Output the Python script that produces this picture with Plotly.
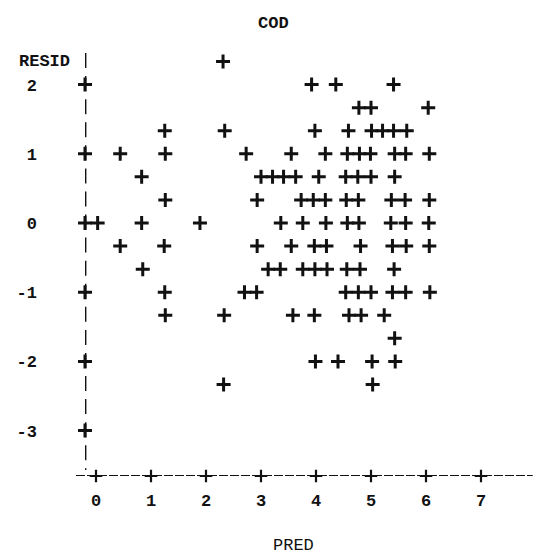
import plotly.graph_objects as go

# ---- data (PRED, RESID) ----
row_resid = [2.333, 2.0, 1.667, 1.333, 1.0, 0.667, 0.333, 0.0,
             -0.333, -0.667, -1.0, -1.333, -1.667, -2.0, -2.333]
row_pred = [
    [2.31],
    [3.92, 4.36, 5.41],
    [4.78, 5.00, 6.04],
    [1.25, 2.34, 3.98, 4.59, 5.01, 5.21, 5.41, 5.65],
    [0.44, 1.26, 2.73, 3.55, 4.17, 4.57, 4.79, 4.99, 5.43, 5.63, 6.06],
    [0.83, 3.00, 3.21, 3.41, 3.63, 4.05, 4.54, 4.76, 5.00, 5.43],
    [1.26, 2.93, 3.73, 3.95, 4.17, 4.55, 4.77, 5.37, 5.62, 6.06],
    [0.03, 0.83, 1.89, 3.36, 3.76, 4.18, 4.57, 4.78, 5.36, 5.63, 6.05],
    [0.44, 1.24, 2.93, 3.55, 3.97, 4.19, 4.81, 5.39, 5.64, 6.06],
    [0.85, 3.13, 3.35, 3.76, 3.98, 4.20, 4.56, 4.80, 5.42],
    [1.25, 2.70, 2.92, 4.54, 4.77, 5.00, 5.39, 5.63, 6.07],
    [1.26, 2.33, 3.58, 3.97, 4.60, 4.82, 5.24],
    [5.43],
    [3.99, 4.40, 5.02, 5.44],
    [2.32, 5.03],
]
pred = [p for ps in row_pred for p in ps]
resid = [r for r, ps in zip(row_resid, row_pred) for _ in ps]

x_ticks = [0, 1, 2, 3, 4, 5, 6, 7]
y_ticks = [2, 1, 0, -1, -2, -3]
y_ticklabels = ["2", "1", "0", "-1", "-2", "-3"]

title_text = "COD"
x_title = "PRED"
y_title = "RESID"

# ---- layout geometry ----
W, H = 544, 556
ML, MR, MT, MB = 85, 9, 50, 80
xmin, xmax = -0.2, -0.2 + (W - ML - MR) / 55.0
ymax = 2.5
ymin = ymax - (H - MT - MB) / 69.2

FONT = "Liberation Mono"
INK = "#111111"

fig = go.Figure()

# data points drawn as '+' crosses
fig.add_trace(go.Scatter(
    x=pred, y=resid, mode="markers",
    marker=dict(symbol="cross-thin", size=10, color=INK,
                line=dict(width=3, color=INK)),
    cliponaxis=False, showlegend=False, hoverinfo="x+y"))

# axis tick crosses (line-printer style)
fig.add_trace(go.Scatter(
    x=[xmin] * len(y_ticks), y=y_ticks, mode="markers",
    marker=dict(symbol="cross-thin", size=10, color=INK,
                line=dict(width=3, color=INK)),
    cliponaxis=False, showlegend=False, hoverinfo="skip"))
fig.add_trace(go.Scatter(
    x=x_ticks, y=[ymin] * len(x_ticks), mode="markers",
    marker=dict(symbol="cross-thin", size=9, color=INK,
                line=dict(width=2.2, color=INK)),
    cliponaxis=False, showlegend=False, hoverinfo="skip"))

# dashed axes
fig.add_shape(type="line", xref="x", yref="y",
              x0=xmin, x1=xmin, y0=2.456, y1=-3.57,
              line=dict(color=INK, width=2.8, dash="15px,8.07px"))
fig.add_shape(type="line", xref="paper", yref="y",
              x0=-9 / (W - ML - MR), x1=0.995, y0=ymin, y1=ymin,
              line=dict(color=INK, width=2.2, dash="9px,2px"))

fig.update_layout(
    width=W, height=H,
    margin=dict(l=ML, r=MR, t=MT, b=MB),
    paper_bgcolor="white", plot_bgcolor="white",
    font=dict(family=FONT, size=17, color=INK),
    xaxis=dict(range=[xmin, xmax], showgrid=False, zeroline=False,
               showline=False, ticks="", tickvals=x_ticks,
               ticktext=[str(v) for v in x_ticks],
               ticklabelstandoff=12,
               tickfont=dict(family=FONT, size=17, color=INK, weight="bold")),
    yaxis=dict(range=[ymin, ymax], showgrid=False, zeroline=False,
               showline=False, ticks="", tickvals=y_ticks,
               ticktext=y_ticklabels, ticklabelstandoff=47,
               tickfont=dict(family=FONT, size=17, color=INK, weight="bold")),
    annotations=[
        dict(text=title_text, xref="paper", yref="paper",
             x=(273 - ML) / (W - ML - MR), y=(H - MB - 23) / (H - MT - MB),
             showarrow=False, xanchor="center", yanchor="middle",
             font=dict(family=FONT, size=17, color=INK, weight="bold")),
        dict(text=y_title, xref="paper", yref="y",
             x=(72 - ML) / (W - ML - MR), y=2.333,
             showarrow=False, xanchor="right", yanchor="middle",
             font=dict(family=FONT, size=17, color=INK, weight="bold")),
        dict(text=x_title, xref="paper", yref="paper",
             x=(293 - ML) / (W - ML - MR), y=(H - MB - 545) / (H - MT - MB),
             showarrow=False, xanchor="center", yanchor="middle",
             font=dict(family=FONT, size=17, color=INK)),
    ],
)

fig.write_html("out.html")
